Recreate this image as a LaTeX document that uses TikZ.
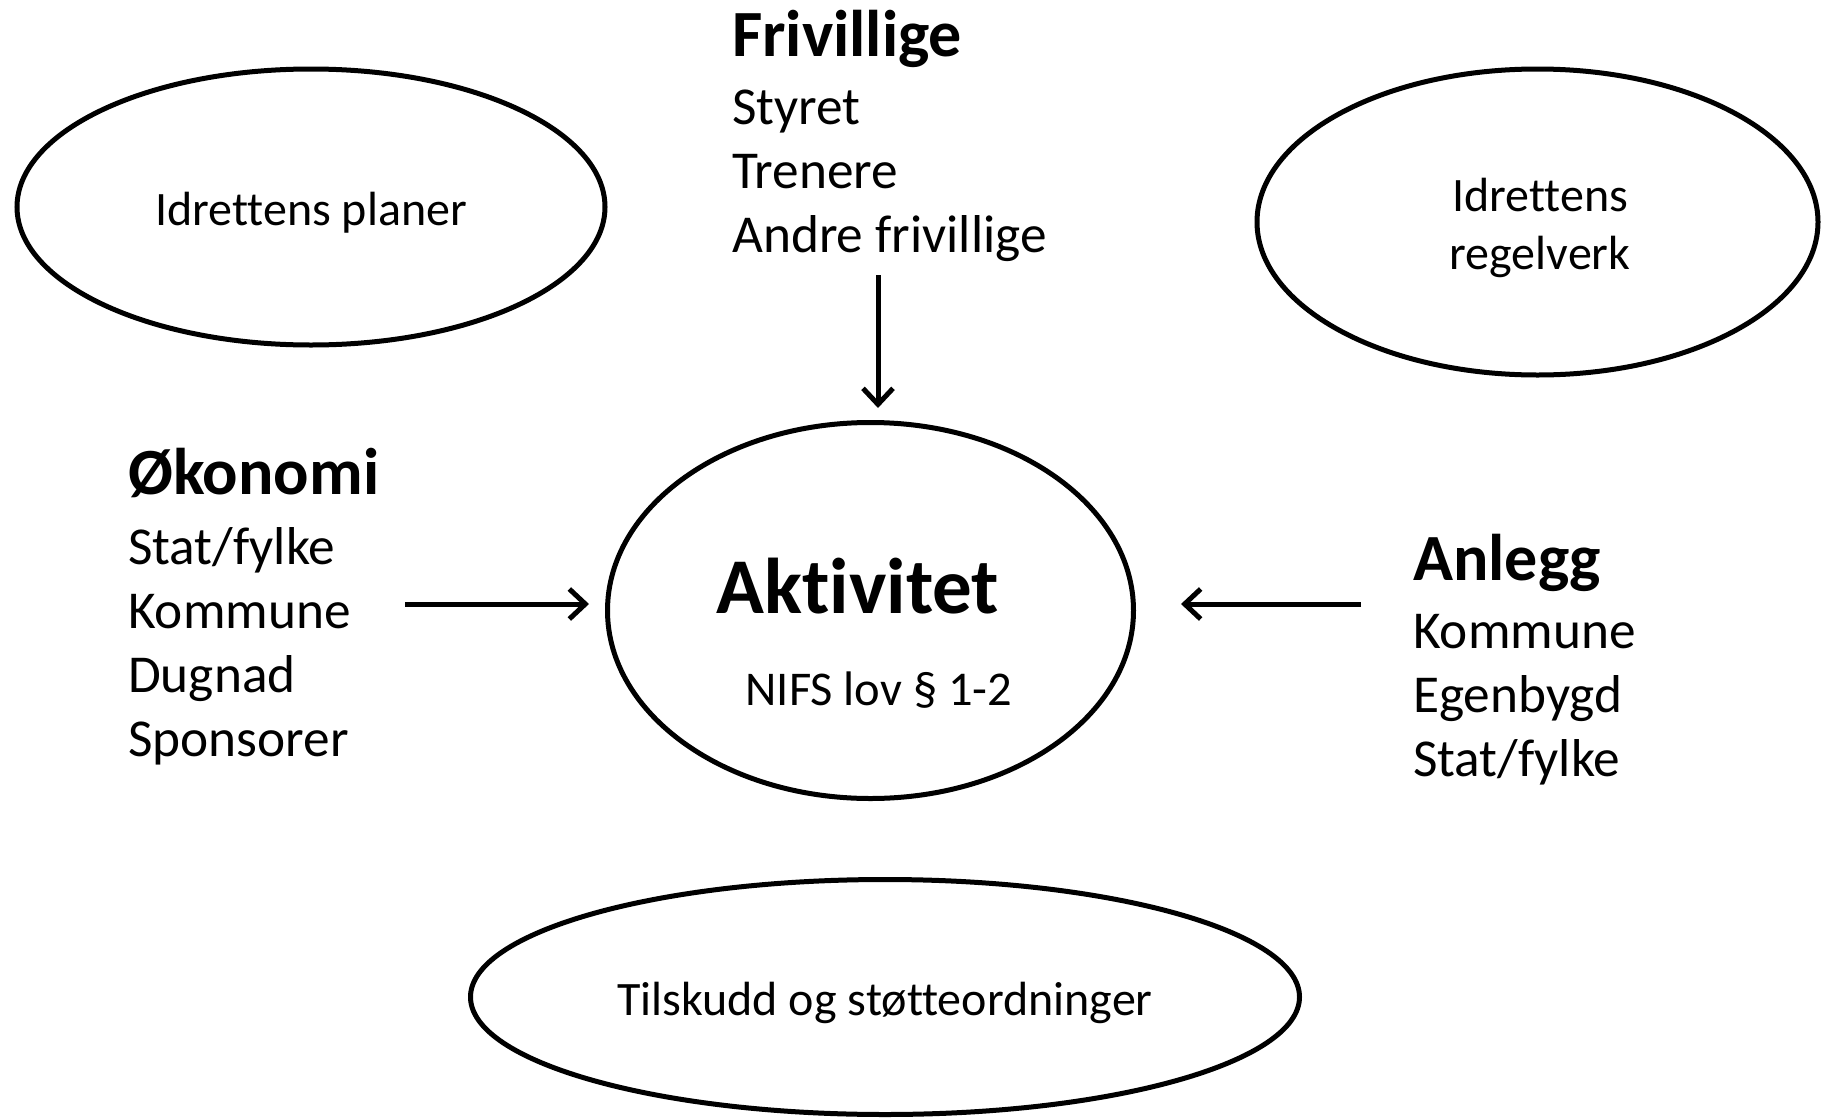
\documentclass[tikz,border=0pt]{standalone}
\usepackage{fontspec}
\setmainfont{Carlito}[Ligatures=NoCommon]
\usetikzlibrary{shapes.geometric,arrows.meta}
\begin{document}
\begin{tikzpicture}[x=1pt,y=-1pt,
  oval/.style={ellipse, draw, line width=5pt, inner sep=0pt},
  arr/.style={line width=5pt, -{Straight Barb[length=16pt,width=30pt]}},
  lbl/.style={font=\fontsize{48}{58}\selectfont, align=center, inner sep=0pt},
  head/.style={font=\fontsize{66}{79}\bfseries\selectfont, inner sep=0pt, anchor=base west},
  lst/.style={font=\fontsize{53.3}{64}\selectfont, align=left, inner sep=0pt, anchor=base west}]
\useasboundingbox (0,0) rectangle (1821,1119);
% ellipses
\node[oval, minimum width=588pt, minimum height=276pt] (planer) at (311,207) {};
\node[oval, minimum width=561pt, minimum height=306pt] (regel) at (1537.5,222) {};
\node[oval, minimum width=526pt, minimum height=376pt] (akt) at (870.5,610.5) {};
\node[oval, minimum width=829pt, minimum height=235pt] (tilskudd) at (885,997) {};
% ellipse texts
\node[lbl] (planertxt) at (311,212.5) {Idrettens planer};
\node[lbl] (regeltxt) at (1540,227.5) {Idrettens\\regelverk};
\node[lbl] (tilskuddtxt) at (885,1002.5) {Tilskudd og støtteordninger};
\node[font=\fontsize{79}{95}\bfseries\selectfont, inner sep=0pt, anchor=base] (akttxt) at (858,613) {Aktivitet};
\node[font=\fontsize{48.5}{58}\selectfont, inner sep=0pt, anchor=base] (nifs) at (879,705) {NIFS lov § 1-2};
% blocks (multi-line nodes: base anchor is the last line)
\node[head] (frivhead) at (732,56) {Frivillige};
\node[lst] (frivlist) at (732,252) {Styret\\Trenere\\Andre frivillige};
\node[head] (okohead) at (128,494) {Økonomi};
\node[lst] (okolist) at (128,756) {Stat/fylke\\Kommune\\Dugnad\\Sponsorer};
\node[head] (anlhead) at (1413,580) {Anlegg};
\node[lst] (anllist) at (1413,776) {Kommune\\Egenbygd\\Stat/fylke};
% arrow anchors
\coordinate (topstart) at (878,275);
\coordinate (leftstart) at (405,604);
\coordinate (rightstart) at (1361,604);
\draw[arr, shorten >=12pt] (topstart) -- (topstart |- akt.north);
\draw[arr, shorten >=16pt] (leftstart) -- (leftstart -| akt.west);
\draw[arr, shorten >=45pt] (rightstart) -- (rightstart -| akt.east);
\end{tikzpicture}
\end{document}
